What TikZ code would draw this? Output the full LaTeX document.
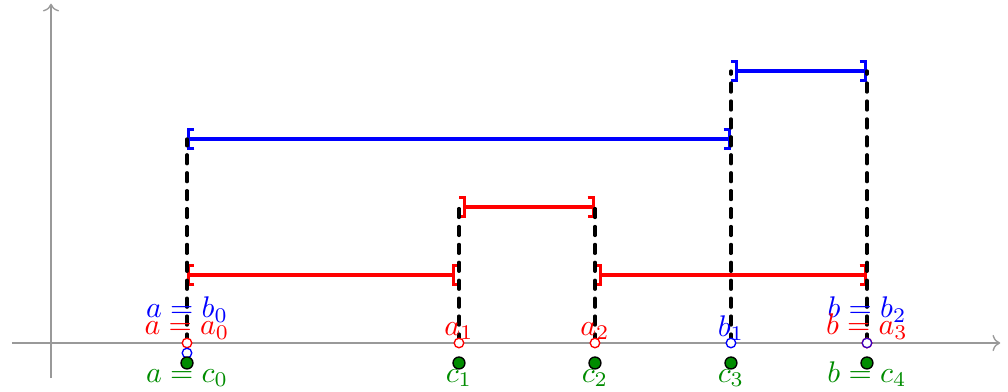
\documentclass[tikz,border=0pt]{standalone}
\usetikzlibrary{arrows.meta}
\tikzset{
  CB/.tip={Bracket[width=7.5pt,length=1.9pt]},
  OB/.tip={Bracket[reversed,width=7.5pt,length=1.9pt]}}
\begin{document}
\begin{tikzpicture}[x=0.8cm,y=0.8cm,
  axis/.style={gray!80,line width=0.45pt,->},
  ivl/.style={line width=1.1pt},
  guide/.style={black,line width=1.1pt,dashed,line cap=round},
  opendot/.style={circle,draw,fill=white,inner sep=0pt,minimum size=3.2pt,line width=0.45pt},
  fulldot/.style={circle,draw=black,fill=green!55!black,inner sep=0pt,minimum size=4pt,line width=0.45pt},
  lbl/.style={anchor=base,inner sep=0pt}]
\useasboundingbox (-0.75,-0.7206) rectangle (14.074,5.044);
\colorlet{cgreen}{green!55!black}
% axes
\coordinate (xs) at (-0.574,0); \coordinate (xe) at (13.96,0);
\coordinate (ys) at (0,-0.515); \coordinate (ye) at (0,4.99);
\draw[axis] (xs) -- (xe);
\draw[axis] (ys) -- (ye);
% points on axis
\coordinate (A) at (2,0); \coordinate (A1) at (6,0); \coordinate (A2) at (8,0);
\coordinate (B1) at (10,0); \coordinate (B) at (12,0);
% interval endpoints
\coordinate (r1a) at (2,1); \coordinate (r1b) at (6,1);
\coordinate (r2a) at (6,2); \coordinate (r2b) at (8,2);
\coordinate (r3a) at (8,1); \coordinate (r3b) at (12,1);
\coordinate (u1a) at (2,3); \coordinate (u1b) at (10,3);
\coordinate (u2a) at (10,4); \coordinate (u2b) at (12,4);
% intervals
\draw[ivl,red,{CB}-{OB}] (r1a) -- (r1b);
\draw[ivl,red,{OB}-{CB}] (r2a) -- (r2b);
\draw[ivl,red,{OB}-{CB}] (r3a) -- (r3b);
\draw[ivl,blue,{CB}-{CB}] (u1a) -- (u1b);
\draw[ivl,blue,{OB}-{CB}] (u2a) -- (u2b);
% dashed guides
\draw[guide] (A) -- (u1a);
\draw[guide] (A1) -- (r2a);
\draw[guide] (A2) -- (r2b);
\draw[guide] (B1) -- (u2a);
\draw[guide] (B) -- (u2b);
% dots
\node[opendot,draw=red] (pa0) at (A) {};
\node[opendot,draw=blue] (pb0) at (2,-0.147) {};
\node[opendot,draw=red] (pa1) at (A1) {};
\node[opendot,draw=red] (pa2) at (A2) {};
\node[opendot,draw=blue] (pb1) at (B1) {};
\node[opendot,draw=red] (pa3) at (B) {};
\node[opendot,draw=blue!75!red] (pb2) at (B) {};
\node[fulldot] (pc0) at (2,-0.294) {};
\node[fulldot] (pc1) at (6,-0.294) {};
\node[fulldot] (pc2) at (8,-0.294) {};
\node[fulldot] (pc3) at (10,-0.294) {};
\node[fulldot] (pc4) at (12,-0.294) {};
% labels
\node[lbl,blue] (lb0) at (2,0.37) {$a=b_0$};
\node[lbl,red] (la0) at (2,0.12) {$a=a_0$};
\node[lbl,cgreen] (lc0) at (2,-0.58) {$a=c_0$};
\node[lbl,red] (la1) at (6,0.11) {$a_1$};
\node[lbl,cgreen] (lc1) at (6,-0.58) {$c_1$};
\node[lbl,red] (la2) at (8,0.11) {$a_2$};
\node[lbl,cgreen] (lc2) at (8,-0.58) {$c_2$};
\node[lbl,blue] (lb1) at (10,0.1) {$b_1$};
\node[lbl,cgreen] (lc3) at (10,-0.58) {$c_3$};
\node[lbl,blue] (lb2) at (12,0.37) {$b=b_2$};
\node[lbl,red] (la3) at (12,0.12) {$b=a_3$};
\node[lbl,cgreen] (lc4) at (12,-0.58) {$b=c_4$};
\end{tikzpicture}
\end{document}
